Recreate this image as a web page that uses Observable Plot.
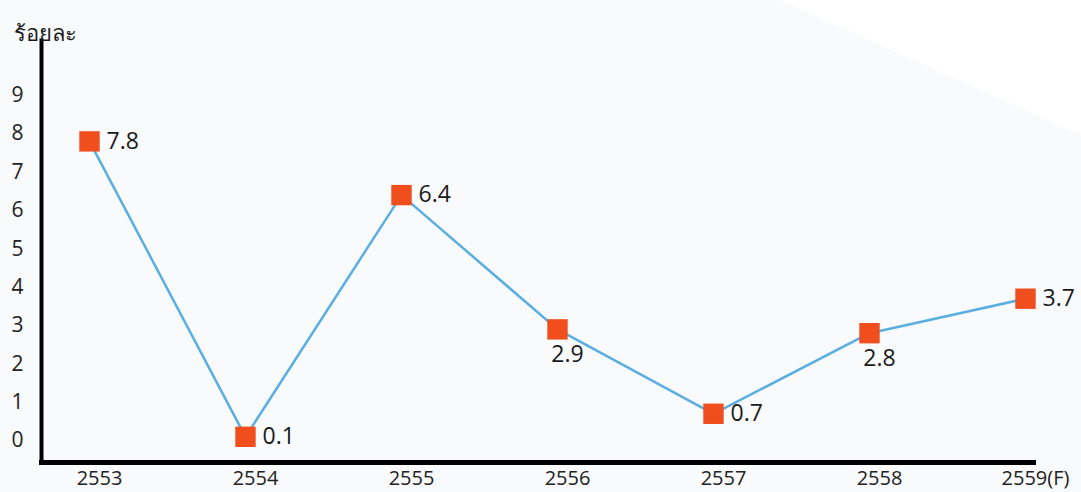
<!DOCTYPE html>
<html><head><meta charset="utf-8">
<script src="https://cdn.jsdelivr.net/npm/d3@7"></script>
<script src="https://cdn.jsdelivr.net/npm/@observablehq/plot@0.6"></script>
<style>
html,body{margin:0;padding:0;background:#f9fafc;}
#wrap{position:relative;width:1081px;height:492px;}
#corner{position:absolute;left:0;top:0;width:1081px;height:492px;background:#ffffff;
  clip-path:polygon(780px 0,1081px 0,1081px 135px);}
#chart{position:absolute;left:0;top:0;}
#chart svg{display:block;}
</style></head>
<body><div id="wrap"><div id="corner"></div><div id="chart"></div></div>
<script>
const years = ["2553","2554","2555","2556","2557","2558","2559(F)"];
const values = [7.8, 0.1, 6.4, 2.9, 0.7, 2.8, 3.7];
const labelSide = ["right","right","right","below","right","below","right"];
const yTicks = [0,1,2,3,4,5,6,7,8,9];
const yLabel = "ร้อยละ";

const data = years.map((y,i)=>({year:y, value:values[i], side:labelSide[i]}));
const font = "'Open Sans', 'Noto Sans', sans-serif";

const chart = Plot.plot({
  width: 1081, height: 492,
  marginLeft: 41, marginRight: 48, marginTop: 40, marginBottom: 30,
  style: {background: "transparent", fontFamily: font},
  x: {type: "point", domain: years, padding: 0, insetLeft: 48, insetRight: 8},
  y: {domain: [-0.57, 10.43]},
  marks: [
    Plot.frame({anchor: "left", stroke: "#000", strokeWidth: 4}),
    Plot.frame({anchor: "bottom", stroke: "#000", strokeWidth: 5}),
    Plot.axisY(yTicks, {tickSize: 0, tickPadding: 18, fontSize: 21, fill: "#222", label: null, textAnchor: "end"}),
    Plot.axisX(years, {tickSize: 0, tickPadding: 8, dx: 10, fontSize: 20, fill: "#222", label: null}),
    Plot.line(data, {x: "year", y: "value", stroke: "#5aaee0", strokeWidth: 2.5}),
    Plot.dot(data, {x: "year", y: "value", symbol: "square", r: 11.5, fill: "#f04e1c", stroke: "none"}),
    Plot.text(data.filter(d=>d.side==="right"), {x: "year", y: "value", text: d=>d.value.toFixed(1), dx: 17, textAnchor: "start", fontSize: 23, fill: "#1a1a1a"}),
    Plot.text(data.filter(d=>d.side==="below"), {x: "year", y: "value", text: d=>d.value.toFixed(1), dx: 10, dy: 25, textAnchor: "middle", fontSize: 23, fill: "#1a1a1a"}),
    Plot.text([yLabel], {frameAnchor: "top-left", dx: -28, dy: -15, textAnchor: "start", fontSize: 22, fill: "#1a1a1a", text: d=>d})
  ]
});
document.getElementById("chart").appendChild(chart);
</script></body></html>
